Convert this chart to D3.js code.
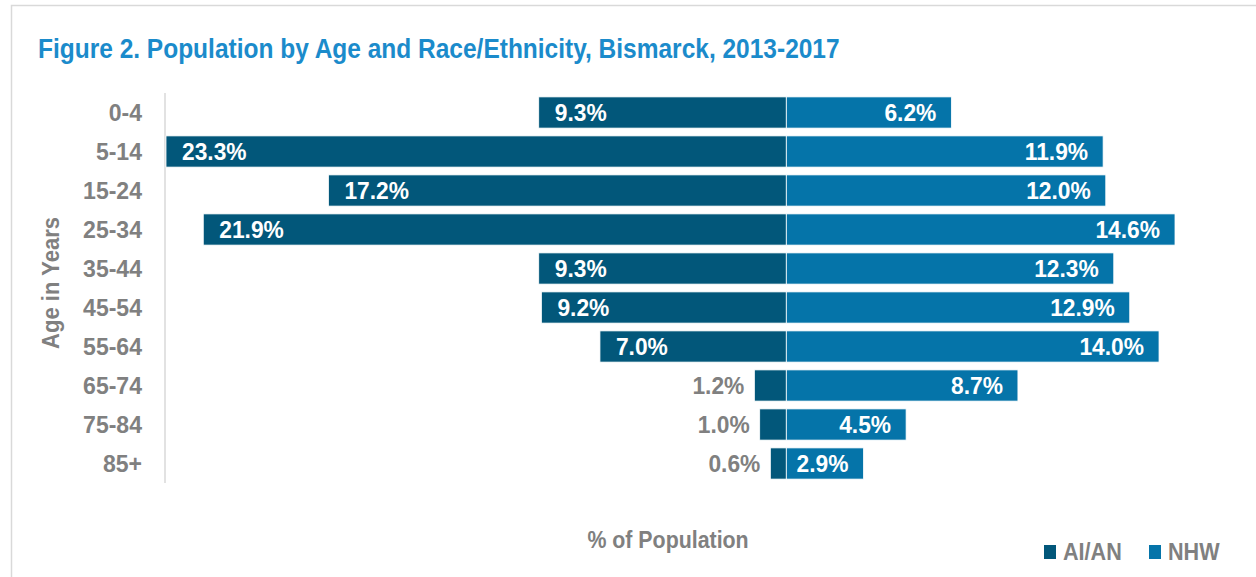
<!DOCTYPE html>
<html><head><meta charset="utf-8">
<script src="https://cdn.jsdelivr.net/npm/d3@7"></script>
<style>
html,body{margin:0;padding:0;background:#fff;}
svg text{font-family:"Liberation Sans Narrow","Arial Narrow","Liberation Sans",Arial,sans-serif;font-weight:bold;}
</style></head>
<body>
<svg id="chart" width="1256" height="577"></svg>
<script>
const categories = ["0-4","5-14","15-24","25-34","35-44","45-54","55-64","65-74","75-84","85+"];
const aian = [9.3,23.3,17.2,21.9,9.3,9.2,7.0,1.2,1.0,0.6];
const nhw = [6.2,11.9,12.0,14.6,12.3,12.9,14.0,8.7,4.5,2.9];
const seriesNames = ["AI/AN","NHW"];
const title = "Figure 2. Population by Age and Race/Ethnicity, Bismarck, 2013-2017";

const colAI = "#02577A", colNHW = "#0574A9", grey = "#808080";
const svg = d3.select("#chart");

function addText(parent, x, y, str, size, sx, anchor, fill, rot){
  return parent.append("text")
    .attr("transform", `translate(${x},${y})` + (rot?` rotate(${rot})`:"") + ` scale(${sx},1)`)
    .attr("text-anchor", anchor).attr("fill", fill).attr("font-size", size).text(str);
}

svg.append("rect").attr("x",11.5).attr("y",5.5).attr("width",1260).attr("height",600)
  .attr("fill","none").attr("stroke","#d9d9d9").attr("stroke-width",1.5);

addText(svg, 38, 58, title, 28, 0.875, "start", "#1B8BCB");

const x = d3.scaleLinear().domain([-23.3,14.6]).range([166,1175]);
const y = d3.scaleBand().domain(categories).range([93,483]).paddingInner(0.2).paddingOuter(0.1);

svg.append("line").attr("x1",165).attr("x2",165).attr("y1",93).attr("y2",483)
  .attr("stroke","#d9d9d9").attr("stroke-width",1.5);

const yAxis = d3.axisLeft(y).tickSize(0).tickPadding(0);
const ga = svg.append("g").attr("transform","translate(142,0)").call(yAxis);
ga.select(".domain").remove();
ga.selectAll("text").attr("fill",grey).attr("font-size",24).attr("dy","0.36em")
  .attr("transform","scale(0.96,1)")
  .style("font-family",'"Liberation Sans Narrow","Arial Narrow","Liberation Sans",sans-serif').style("font-weight","bold");

const rows = categories.map((c,i)=>({c, a:aian[i], n:nhw[i]}));

svg.selectAll(".barA").data(rows).join("rect")
  .attr("x",d=>x(-d.a)).attr("y",d=>y(d.c)).attr("width",d=>x(0)-x(-d.a)).attr("height",y.bandwidth())
  .attr("fill",colAI).attr("stroke","#fff").attr("stroke-width",0.8);
svg.selectAll(".barN").data(rows).join("rect")
  .attr("x",x(0)).attr("y",d=>y(d.c)).attr("width",d=>x(d.n)-x(0)).attr("height",y.bandwidth())
  .attr("fill",colNHW).attr("stroke","#fff").attr("stroke-width",0.8);

const fmt = v => v.toFixed(1)+"%";
rows.forEach(d=>{
  const cy = y(d.c)+y.bandwidth()/2 + 8.5;
  if (d.a >= 5) addText(svg, x(-d.a)+16, cy, fmt(d.a), 24, 0.95, "start", "#fff");
  else addText(svg, x(-d.a)-10, cy, fmt(d.a), 24, 0.95, "end", grey);
  addText(svg, x(d.n)-15, cy, fmt(d.n), 24, 0.95, "end", "#fff");
});

addText(svg, 59, 283, "Age in Years", 24, 0.92, "middle", grey, -90);
addText(svg, 668, 548, "% of Population", 24, 0.89, "middle", grey);

const leg = [{n:seriesNames[0],c:colAI,x:1044,tx:1063},{n:seriesNames[1],c:colNHW,x:1149,tx:1168}];
leg.forEach(l=>{
  svg.append("rect").attr("x",l.x).attr("y",545).attr("width",12).attr("height",14).attr("fill",l.c);
  addText(svg, l.tx, 560, l.n, 24, 0.9, "start", grey);
});
</script>
</body></html>
